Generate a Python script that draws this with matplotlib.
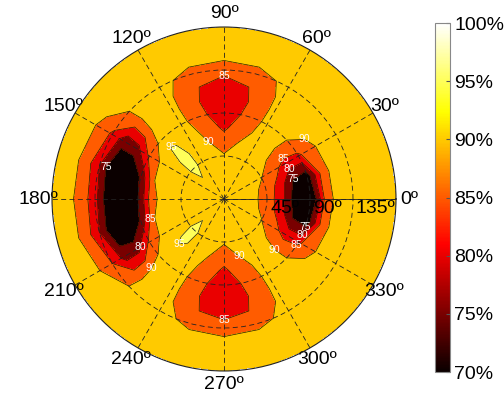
import numpy as np
import matplotlib
matplotlib.use('Agg')
import matplotlib.pyplot as plt
from matplotlib.colors import Normalize
from matplotlib.cm import ScalarMappable
import matplotlib.transforms as mtransforms

plt.rcParams['font.family'] = ['Liberation Sans', 'DejaVu Sans']

# ---- data: grid of angle (deg) and radius, values (%) ----
theta_deg = [0, 15, 30, 45, 60, 75, 90, 105, 120, 135, 150, 165,
             180, 195, 210, 225, 240, 255, 270, 285, 300, 315, 330, 345]
r_vals = [0, 15, 30, 45, 60, 75, 90, 105, 120, 135, 150, 165, 180]

# one list per angle, values along r_vals
z_t000 = [93, 93, 91.5, 87.5, 82.5, 72, 67, 85, 93, 92.5, 92, 92, 92]
z_t015 = [93, 93, 92, 88, 83.5, 74.5, 72, 86, 93, 92.5, 92, 92, 92]
z_t030 = [93, 93, 92.5, 90.2, 86.5, 83, 84, 88.5, 92.5, 92.5, 92, 92, 92]
z_t045 = [93, 93, 92.8, 92, 90.7, 90, 90.8, 92, 92.5, 92.5, 92, 92, 92]
z_t060 = [93, 93, 93, 92.5, 92, 91.8, 91.5, 91.3, 91.3, 91.5, 92, 92, 92]
z_t075 = [93, 93, 93, 91.5, 90.3, 88, 86, 85.2, 85.3, 87.8, 92, 92, 92]
z_t090 = [93, 93, 92.5, 90.5, 87.5, 84, 82, 81.5, 83.5, 86, 92, 92, 92]
z_t105 = [93, 93, 93, 91.5, 90.3, 88, 86, 85.2, 85.3, 87.8, 92, 92, 92]
z_t120 = [93, 93, 93, 93.5, 93.5, 93, 91.8, 91.5, 91.5, 91.8, 92, 92, 92]
z_t135 = [93, 93, 94.8, 96.5, 96.5, 95.6, 92, 91, 90.5, 91, 92, 92.5, 92.5]
z_t150 = [93, 93, 93, 92.5, 92, 91, 86, 78, 77, 84, 89, 92, 92]
z_t165 = [93, 93, 93, 92.5, 92, 90, 76, 68, 69, 80, 88, 92, 92]
z_t180 = [93, 93, 93, 92.5, 92, 89, 74, 65, 70, 82, 88, 92, 92]
z_t195 = [93, 93, 93, 92.5, 92, 90, 76, 68, 70, 80, 88, 92, 92]
z_t210 = [93, 93, 93, 92.5, 92, 91, 86, 78, 78, 85, 90, 92, 92]
z_t225 = [93, 93, 94.8, 96.5, 96, 93.5, 92, 91, 90.5, 91, 92, 92.5, 92.5]
z_t240 = [93, 93, 93, 93.5, 93.3, 92.5, 91.8, 91.5, 91.5, 91.8, 92, 92, 92]
z_t255 = [93, 93, 93, 91.5, 90.3, 88, 86, 85.2, 85.3, 88.5, 92, 92, 92]
z_t270 = [93, 93, 92.5, 90.5, 87.5, 84, 82, 81.5, 83.5, 87, 92, 92, 92]
z_t285 = [93, 93, 93, 91.5, 90.3, 88, 86, 85.2, 85.3, 88.5, 92, 92, 92]
z_t300 = [93, 93, 93, 92.5, 92, 91.8, 91.5, 91.3, 91.3, 91.5, 92, 92, 92]
z_t315 = [93, 93, 92.8, 92, 90.7, 90, 90.8, 92, 92.5, 92.5, 92, 92, 92]
z_t330 = [93, 93, 92.5, 90.2, 86.5, 83, 84, 88.5, 92.5, 92.5, 92, 92, 92]
z_t345 = [93, 93, 92, 88, 83.5, 74.5, 72, 86, 93, 92.5, 92, 92, 92]

contour_levels = [75, 80, 85, 90, 95]
theta_ticks = [0, 30, 60, 90, 120, 150, 180, 210, 240, 270, 300, 330]
ring_ticks = [45, 90, 135]
ring_labels = ['45º', '90º', '135º']
cbar_ticks = [70, 75, 80, 85, 90, 95, 100]
cbar_labels = ['70%', '75%', '80%', '85%', '90%', '95%', '100%']
vmin, vmax = 70, 100

# ---- build grid ----
columns = [z_t000, z_t015, z_t030, z_t045, z_t060, z_t075, z_t090, z_t105,
           z_t120, z_t135, z_t150, z_t165, z_t180, z_t195, z_t210, z_t225,
           z_t240, z_t255, z_t270, z_t285, z_t300, z_t315, z_t330, z_t345]
Z = np.array(columns).T
Z = np.hstack([Z, Z[:, :1]])                     # close the circle
th = np.deg2rad(np.array(theta_deg + [360]))
T, R = np.meshgrid(th, np.array(r_vals))

cmap = plt.get_cmap('hot')
norm = Normalize(vmin, vmax)
fill_levels = [min(Z.min(), vmin) - 1] + contour_levels + [vmax]
band_colors = [cmap(norm(v)) for v in [vmin] + contour_levels]

fig = plt.figure(figsize=(5.04, 4.0), dpi=100)
ax = fig.add_axes([0.1032, 0.0725, 0.6825, 0.86], projection='polar')

ax.contourf(T, R, Z, levels=fill_levels, colors=band_colors, zorder=0.5)
cs = ax.contour(T, R, Z, levels=contour_levels, colors='#2a1a00', linewidths=0.5, zorder=1)
labels = ax.clabel(cs, fmt='%d', colors='white', fontsize=7.5, inline=False)
for t in labels:
    t.set_rotation(0)

ax.set_ylim(0, r_vals[-1])
ax.set_thetagrids(theta_ticks, labels=[f'{t}º' for t in theta_ticks], fontsize=14)
ax.set_rgrids(ring_ticks, labels=['' for _ in ring_ticks])
ax.grid(True, color='#222222', linestyle=(0, (6, 4)), linewidth=0.6)
ax.tick_params(axis='x', pad=-1)
ax.plot([0, 0], [r_vals[0], r_vals[-1]], color='#222222', lw=0.6, zorder=1.6)
ax.spines['polar'].set_color('#222222')
ax.spines['polar'].set_linewidth(0.8)

off = mtransforms.ScaledTranslation(3 / 100, -1 / 100, fig.dpi_scale_trans)
for rv, lab in zip(ring_ticks, ring_labels):
    ax.text(0, rv, lab, fontsize=14, ha='left', va='top',
            transform=ax.transData + off, zorder=5)

cax = fig.add_axes([435 / 504, 28 / 400, 15 / 504, 349 / 400])
sm = ScalarMappable(norm=norm, cmap=cmap)
cb = fig.colorbar(sm, cax=cax, ticks=cbar_ticks)
cb.set_ticklabels(cbar_labels)
cb.outline.set_edgecolor('#888888')
cb.outline.set_linewidth(0.8)
cax.tick_params(direction='in', length=3, labelsize=14, color='#555555', pad=3)

fig.savefig('out.png', dpi=100)
